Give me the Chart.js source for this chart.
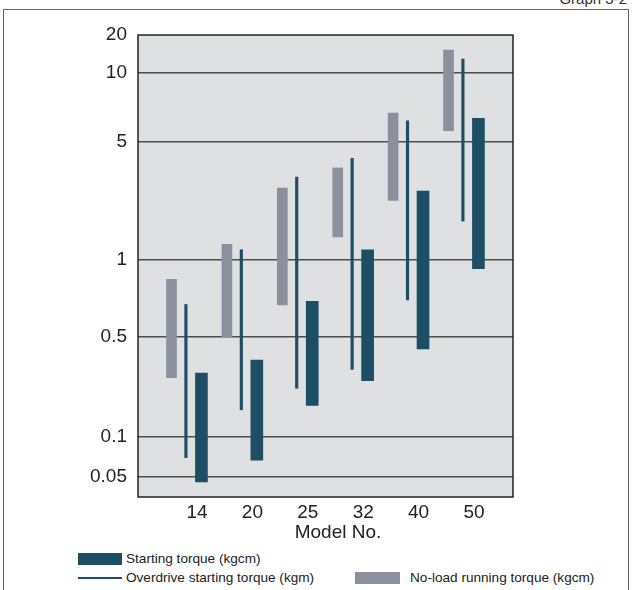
<!DOCTYPE html>
<html lang="en">
  <head>
    <meta charset="UTF-8" />
    <title>Graph 3-2 - Torque by model</title>
    <style>
      * {
        margin: 0;
        padding: 0;
        font-family: "Liberation Sans", Arial, sans-serif;
      }
      body {
        width: 635px;
        height: 590px;
        background: #fff;
        position: relative;
        overflow: hidden;
      }
      .frame {
        position: absolute;
        left: 3px;
        top: 9px;
        width: 624px;
        height: 620px;
        border: 1px solid #666;
      }
      .graphNo {
        position: absolute;
        right: 8px;
        top: -10px;
        font-size: 15px;
        color: #333;
      }
      .chartBox {
        position: absolute;
        left: 0;
        top: 0;
        width: 635px;
        height: 550px;
      }
      .axisTitle {
        position: absolute;
        left: 238px;
        width: 200px;
        top: 521px;
        text-align: center;
        font-size: 19px;
        color: #222;
      }
      .key {
        position: absolute;
        font-size: 13.6px;
        color: #222;
        line-height: 14px;
      }
      .swatch {
        position: absolute;
      }
    </style>
  </head>
  <body>
    <div class="frame"></div>
    <div class="graphNo">Graph 3-2</div>
    <div class="chartBox">
      <canvas id="myChart"></canvas>
    </div>
    <div class="axisTitle">Model No.</div>

    <div class="swatch" style="left:78px;top:553px;width:44px;height:12px;background:#1e4e63"></div>
    <div class="key" style="left:126px;top:552px">Starting torque (kgcm)</div>
    <div class="swatch" style="left:78px;top:577px;width:44px;height:2px;background:#1e4e63"></div>
    <div class="key" style="left:126px;top:571px">Overdrive starting torque (kgm)</div>
    <div class="swatch" style="left:355px;top:572px;width:45px;height:12px;background:#8a909c"></div>
    <div class="key" style="left:410px;top:571px">No-load running torque (kgcm)</div>

    <script src="https://cdn.jsdelivr.net/npm/chart.js"></script>

    <script>
      // data block
      const models = ["14", "20", "25", "32", "40", "50"];

      const startingMin = [0.046, 0.067, 0.166, 0.248, 0.412, 0.925];
      const startingMax = [0.28, 0.345, 0.69, 1.15, 2.56, 6.35];

      const overdriveMin = [0.07, 0.155, 0.219, 0.297, 0.698, 1.7];
      const overdriveMax = [0.67, 1.15, 3.1, 4.0, 6.18, 12.9];

      const noLoadMin = [0.26, 0.5, 0.668, 1.37, 2.25, 5.6];
      const noLoadMax = [0.84, 1.24, 2.67, 3.51, 6.69, 15.2];

      const tickValues = [0.05, 0.1, 0.5, 1, 5, 10, 20];

      // the printed axis is not a true log scale, every labelled value
      // sits at its own height, so go piecewise-log between them
      const tickPos = [20, 60, 160, 237, 355, 424, 462];

      function toPos(v) {
        let i = 0;
        while (i < tickValues.length - 2 && v > tickValues[i + 1]) i++;
        const a = Math.log10(tickValues[i]);
        const b = Math.log10(tickValues[i + 1]);
        return tickPos[i] + ((Math.log10(v) - a) / (b - a)) * (tickPos[i + 1] - tickPos[i]);
      }

      function ranges(lo, hi, shift) {
        return models.map((m, i) => ({ x: i + shift, y: [toPos(lo[i]), toPos(hi[i])] }));
      }

      const teal = "#1e4e63";
      const grey = "#8a909c";

      const data = {
        datasets: [
          {
            label: "No-load running torque (kgcm)",
            data: ranges(noLoadMin, noLoadMax, -0.46),
            backgroundColor: grey,
            barThickness: 10
          },
          {
            label: "Overdrive starting torque (kgm)",
            data: ranges(overdriveMin, overdriveMax, -0.2),
            backgroundColor: teal,
            barThickness: 2.5
          },
          {
            label: "Starting torque (kgcm)",
            data: ranges(startingMin, startingMax, 0.08),
            backgroundColor: teal,
            barThickness: 12
          }
        ]
      };

      // plot background + frame
      const plotFrame = {
        id: "plotFrame",
        beforeDraw(chart) {
          const { ctx, chartArea: a } = chart;
          ctx.save();
          ctx.fillStyle = "#dfe0e2";
          ctx.fillRect(a.left, a.top, a.right - a.left, a.bottom - a.top);
          ctx.restore();
        },
        afterDraw(chart) {
          const { ctx, chartArea: a } = chart;
          ctx.save();
          ctx.strokeStyle = "#222";
          ctx.lineWidth = 1.5;
          ctx.strokeRect(a.left, a.top, a.right - a.left, a.bottom - a.top);
          ctx.restore();
        }
      };

      const tickFont = { size: 19, family: "'Liberation Sans', Arial, sans-serif" };

      // config block
      const config = {
        type: "bar",
        data,
        options: {
          responsive: true,
          maintainAspectRatio: false,
          animation: false,
          layout: { padding: { left: 0, top: 35, right: 122, bottom: 0 } },
          plugins: {
            legend: { display: false },
            tooltip: { enabled: false }
          },
          datasets: { bar: { grouped: false } },
          scales: {
            x: {
              type: "linear",
              offset: false,
              min: -1.065,
              max: 5.704,
              afterBuildTicks: (scale) => {
                scale.ticks = models.map((m, i) => ({ value: i }));
              },
              afterFit: (scale) => {
                scale.height = 53;
              },
              ticks: {
                color: "#222",
                font: tickFont,
                padding: -4,
                maxRotation: 0,
                callback: (v) => models[v]
              },
              grid: { display: false },
              border: { display: false }
            },
            y: {
              type: "linear",
              min: 0,
              max: 462,
              afterBuildTicks: (scale) => {
                scale.ticks = tickPos.map((p) => ({ value: p }));
              },
              afterFit: (scale) => {
                scale.width = 138;
              },
              ticks: {
                color: "#222",
                font: tickFont,
                padding: 11,
                callback: (v) => String(tickValues[tickPos.indexOf(v)])
              },
              grid: {
                drawTicks: false,
                lineWidth: 1.5,
                color: (c) => (c.tick && c.tick.value === 462 ? "rgba(0,0,0,0)" : "#4d4d4d")
              },
              border: { display: false }
            }
          }
        },
        plugins: [plotFrame]
      };

      // init render block
      const ctx = document.getElementById("myChart");
      const myChart = new Chart(ctx, config);
    </script>
  </body>
</html>
